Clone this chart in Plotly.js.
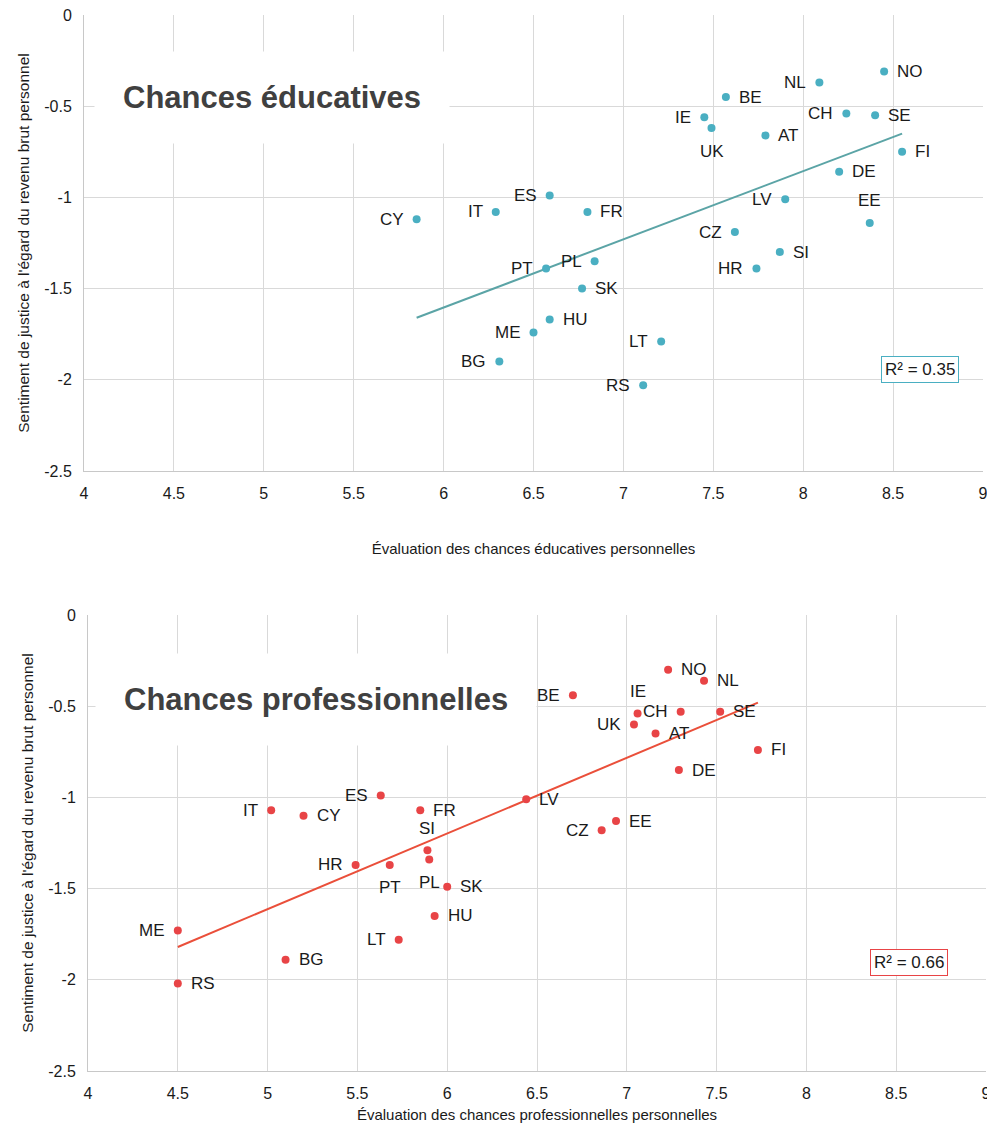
<!DOCTYPE html>
<html>
<head>
<meta charset="utf-8">
<script src="https://cdn.plot.ly/plotly-3.0.1.min.js"></script>
<style>
  html, body { margin: 0; padding: 0; background: #ffffff; }
  #chart { width: 987px; height: 1126px; }
</style>
</head>
<body>
<div id="chart"></div>
<script>
// ---------- Data: educational opportunities ----------
const eduCountries = ['NO','NL','BE','IE','UK','AT','CH','SE','FI','DE','LV','EE','CZ','SI','HR','ES','FR','PL','PT','SK','CY','IT','HU','ME','BG','LT','RS'];
const eduX = [8.45, 8.09, 7.57, 7.45, 7.49, 7.79, 8.24, 8.40, 8.55, 8.20, 7.90, 8.37, 7.62, 7.87, 7.74, 6.59, 6.80, 6.84, 6.57, 6.77, 5.85, 6.29, 6.59, 6.50, 6.31, 7.21, 7.11];
const eduY = [-0.31, -0.37, -0.45, -0.56, -0.62, -0.66, -0.54, -0.55, -0.75, -0.86, -1.01, -1.14, -1.19, -1.30, -1.39, -0.99, -1.08, -1.35, -1.39, -1.50, -1.12, -1.08, -1.67, -1.74, -1.90, -1.79, -2.03];
const eduTrendX = [5.85, 8.55];
const eduTrendY = [-1.66, -0.65];
const eduR2 = 'R² = 0.35';

// ---------- Data: professional opportunities ----------
const proCountries = ['NO','NL','BE','IE','CH','SE','UK','AT','FI','DE','LV','EE','CZ','ES','IT','CY','FR','SI','HR','PT','PL','SK','HU','LT','ME','BG','RS'];
const proX = [7.23, 7.43, 6.70, 7.06, 7.30, 7.52, 7.04, 7.16, 7.73, 7.29, 6.44, 6.94, 6.86, 5.63, 5.02, 5.20, 5.85, 5.89, 5.49, 5.68, 5.90, 6.00, 5.93, 5.73, 4.50, 5.10, 4.50];
const proY = [-0.30, -0.36, -0.44, -0.54, -0.53, -0.53, -0.60, -0.65, -0.74, -0.85, -1.01, -1.13, -1.18, -0.99, -1.07, -1.10, -1.07, -1.29, -1.37, -1.37, -1.34, -1.49, -1.65, -1.78, -1.73, -1.89, -2.02];
const proTrendX = [4.50, 7.73];
const proTrendY = [-1.82, -0.48];
const proR2 = 'R² = 0.66';

// ---------- Axis ticks ----------
const xTickVals = [4, 4.5, 5, 5.5, 6, 6.5, 7, 7.5, 8, 8.5, 9];
const xTickText = ['4', '4.5', '5', '5.5', '6', '6.5', '7', '7.5', '8', '8.5', '9'];
const yTickVals = [0, -0.5, -1, -1.5, -2, -2.5];
const yTickText = ['0', '-0.5', '-1', '-1.5', '-2', '-2.5'];

const yTitle = "Sentiment de justice à l'égard du revenu brut personnel";
const eduXTitle = 'Évaluation des chances éducatives personnelles';
const proXTitle = 'Évaluation des chances professionnelles personnelles';
const eduHeading = 'Chances éducatives';
const proHeading = 'Chances professionnelles';

// ---------- Label placement (style) ----------
const eduLabelPos = {NO:'r',NL:'l',BE:'r',IE:'l',UK:'b',AT:'r',CH:'l',SE:'r',FI:'r',DE:'r',LV:'l',EE:'t',CZ:'l',SI:'r',HR:'l',ES:'l',FR:'r',PL:'l',PT:'l',SK:'r',CY:'l',IT:'l',HU:'r',ME:'l',BG:'l',LT:'l',RS:'l'};
const proLabelPos = {NO:'r',NL:'r',BE:'l',IE:'t',CH:'l',SE:'r',UK:'l',AT:'r',FI:'r',DE:'r',LV:'r',EE:'r',CZ:'l',ES:'l',IT:'l',CY:'r',FR:'r',SI:'t',HR:'l',PT:'b',PL:'b',SK:'r',HU:'r',LT:'l',ME:'l',BG:'r',RS:'r'};

const FONT = 'Liberation Sans, Arial, Helvetica, sans-serif';
const eduColor = '#4aafc2';
const eduLine = '#5ba4a6';
const proColor = '#e84446';
const proLine = '#ea4f3a';

function labels(names, xs, ys, pos, xref, yref) {
  return names.map((n, i) => {
    const p = pos[n];
    const a = {
      x: xs[i], y: ys[i], xref: xref, yref: yref, text: n, showarrow: false,
      font: {family: FONT, size: 17, color: '#1a1a1a'},
      xanchor: 'center', yanchor: 'middle', xshift: 0, yshift: 0
    };
    if (p === 'r') { a.xanchor = 'left'; a.xshift = 11; }
    if (p === 'l') { a.xanchor = 'right'; a.xshift = -11; }
    if (p === 't') { a.yshift = 22; }
    if (p === 'b') { a.yshift = -23; }
    return a;
  });
}

const traces = [
  {x: eduTrendX, y: eduTrendY, xaxis: 'x', yaxis: 'y', mode: 'lines', type: 'scatter',
   line: {color: eduLine, width: 2}, hoverinfo: 'skip'},
  {x: eduX, y: eduY, text: eduCountries, xaxis: 'x', yaxis: 'y', mode: 'markers', type: 'scatter',
   marker: {color: eduColor, size: 8}},
  {x: proTrendX, y: proTrendY, xaxis: 'x2', yaxis: 'y2', mode: 'lines', type: 'scatter',
   line: {color: proLine, width: 2}, hoverinfo: 'skip'},
  {x: proX, y: proY, text: proCountries, xaxis: 'x2', yaxis: 'y2', mode: 'markers', type: 'scatter',
   marker: {color: proColor, size: 8}}
];

const W = 987, H = 1126;
function xd(a, b) { return [a / W, b / W]; }
function yd(top, bottom) { return [1 - bottom / H, 1 - top / H]; }

const xCommon = {
  range: [4, 9], tickvals: xTickVals, ticktext: xTickText,
  tickfont: {family: FONT, size: 16, color: '#1a1a1a'},
  ticklabeloverflow: 'allow',
  showgrid: true, gridcolor: '#d9d9d9', gridwidth: 1,
  showline: true, linecolor: '#c8c8c8', linewidth: 1,
  zeroline: false, ticks: 'outside', ticklen: 8, tickcolor: 'rgba(0,0,0,0)',
  fixedrange: true
};
const yCommon = {
  range: [-2.5, 0], tickvals: yTickVals, ticktext: yTickText,
  tickfont: {family: FONT, size: 16, color: '#1a1a1a'},
  ticklabeloverflow: 'allow',
  showgrid: true, gridcolor: '#d9d9d9', gridwidth: 1,
  showline: true, linecolor: '#c8c8c8', linewidth: 1,
  zeroline: false, ticks: 'outside', ticklen: 8, tickcolor: 'rgba(0,0,0,0)',
  fixedrange: true
};

const layout = {
  width: W, height: H,
  margin: {l: 0, r: 0, t: 0, b: 0},
  paper_bgcolor: '#ffffff', plot_bgcolor: '#ffffff',
  showlegend: false,
  font: {family: FONT, color: '#1a1a1a'},
  xaxis: Object.assign({}, xCommon, {domain: xd(84, 983), anchor: 'y',
    title: {text: eduXTitle, font: {family: FONT, size: 15, color: '#1a1a1a'}, standoff: 42}}),
  yaxis: Object.assign({}, yCommon, {domain: yd(15, 471), anchor: 'x',
    title: {text: yTitle, font: {family: FONT, size: 15.5, color: '#1a1a1a'}, standoff: 10}}),
  xaxis2: Object.assign({}, xCommon, {domain: xd(88, 986), anchor: 'y2',
    title: {text: proXTitle, font: {family: FONT, size: 15, color: '#1a1a1a'}, standoff: 8}}),
  yaxis2: Object.assign({}, yCommon, {domain: yd(615, 1071), anchor: 'x2',
    title: {text: yTitle, font: {family: FONT, size: 15.5, color: '#1a1a1a'}, standoff: 10}}),
  annotations: [
    {xref: 'paper', yref: 'paper', x: 272 / W, y: 1 - 97 / H, text: eduHeading, showarrow: false,
     font: {family: FONT, size: 31, color: '#404040', weight: 'bold'}, bgcolor: '#ffffff', borderpad: 28,
     xanchor: 'center', yanchor: 'middle'},
    {xref: 'paper', yref: 'paper', x: 316 / W, y: 1 - 699 / H, text: proHeading, showarrow: false,
     font: {family: FONT, size: 31, color: '#404040', weight: 'bold'}, bgcolor: '#ffffff', borderpad: 28,
     xanchor: 'center', yanchor: 'middle'},
    {xref: 'paper', yref: 'paper', x: 920 / W, y: 1 - 369 / H, text: eduR2, showarrow: false,
     font: {family: FONT, size: 17, color: '#1a1a1a'}, bgcolor: '#ffffff',
     bordercolor: eduColor, borderwidth: 1, borderpad: 3, xanchor: 'center', yanchor: 'middle'},
    {xref: 'paper', yref: 'paper', x: 909 / W, y: 1 - 962 / H, text: proR2, showarrow: false,
     font: {family: FONT, size: 17, color: '#1a1a1a'}, bgcolor: '#ffffff',
     bordercolor: proColor, borderwidth: 1, borderpad: 3, xanchor: 'center', yanchor: 'middle'}
  ].concat(labels(eduCountries, eduX, eduY, eduLabelPos, 'x', 'y'))
   .concat(labels(proCountries, proX, proY, proLabelPos, 'x2', 'y2'))
};

Plotly.newPlot('chart', traces, layout, {displayModeBar: false, staticPlot: true});
</script>
</body>
</html>
